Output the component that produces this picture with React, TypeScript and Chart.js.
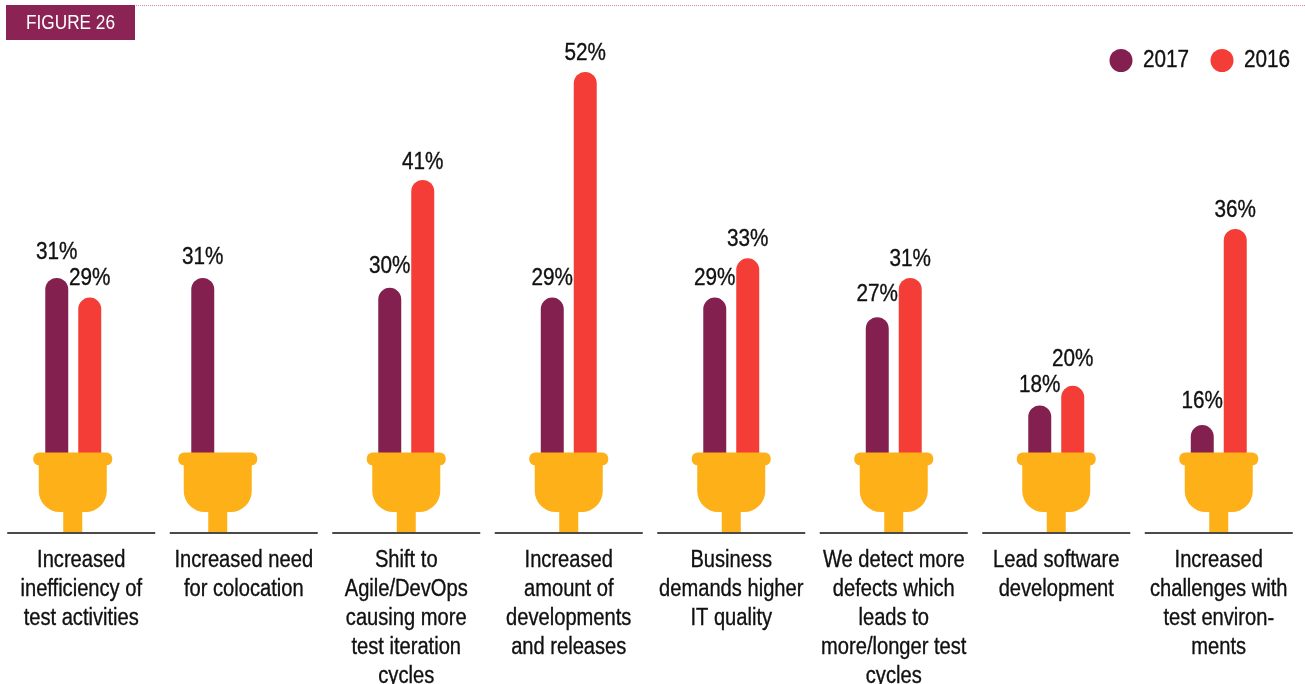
import React, { useEffect, useRef } from "react";
import { Chart, registerables } from "chart.js";

Chart.register(...registerables);

const categories = [
  ["Increased", "inefficiency of", "test activities"],
  ["Increased need", "for colocation"],
  ["Shift to", "Agile/DevOps", "causing more", "test iteration", "cycles"],
  ["Increased", "amount of", "developments", "and releases"],
  ["Business", "demands higher", "IT quality"],
  ["We detect more", "defects which", "leads to", "more/longer test", "cycles"],
  ["Lead software", "development"],
  ["Increased", "challenges with", "test environ-", "ments"],
];
const values2017 = [31, 31, 30, 29, 29, 27, 18, 16];
const values2016 = [29, null, 41, 52, 33, 31, 20, 36];
const seriesNames = ["2017", "2016"];
const figureLabel = "FIGURE 26";

const FONT = '"Liberation Sans", Arimo, sans-serif';
const COLORS = ["#84204F", "#F33D36"];
const PLUG = "#FDB018";
const barShift = [-8, -24.5, 0, 0, 0, 0, 0, 0];
const plugShift = [-8.5, -26, 0, 0, 0, 0, 0, 0];
const labelLift = [
  [25, 20, 21, 19, 19, 23, 20, 23],
  [19, 0, 17, 18, 19, 18, 26, 18],
];

function narrowText(
  c: CanvasRenderingContext2D,
  text: string,
  x: number,
  y: number,
  size: number,
  squeeze: number,
  align: CanvasTextAlign = "center",
  weight = 0.35,
) {
  c.save();
  c.translate(x, y);
  c.scale(squeeze, 1);
  c.font = `${size}px ${FONT}`;
  c.textAlign = align;
  c.textBaseline = "middle";
  c.fillText(text, 0, 0);
  if (weight > 0) {
    c.strokeStyle = c.fillStyle as string;
    c.lineWidth = weight;
    c.strokeText(text, 0, 0);
  }
  c.restore();
}

const decor = {
  id: "decor",
  afterDatasetsUpdate(chart: any) {
    chart.data.datasets.forEach((_: any, d: number) => {
      chart.getDatasetMeta(d).data.forEach((el: any, i: number) => {
        el.x += barShift[i];
      });
    });
  },
  beforeDraw(chart: any) {
    const c: CanvasRenderingContext2D = chart.ctx;
    c.save();
    c.strokeStyle = "#C98BA6";
    c.lineWidth = 1;
    c.setLineDash([1, 1]);
    c.beginPath();
    c.moveTo(6, 5.5);
    c.lineTo(1305, 5.5);
    c.stroke();
    c.setLineDash([]);
    c.fillStyle = "#8B2454";
    c.fillRect(6, 5, 129, 35);
    c.fillStyle = "#FFFFFF";
    narrowText(c, figureLabel, 70.5, 23, 21, 0.82, "center", 0);
    c.restore();
  },
  afterDatasetsDraw(chart: any) {
    const c: CanvasRenderingContext2D = chart.ctx;
    const xs = chart.scales.x;
    const bottom = chart.chartArea.bottom;
    c.save();
    categories.forEach((lines, i) => {
      const tick = xs.getPixelForValue(i);
      const cx = tick + plugShift[i];
      c.fillStyle = PLUG;
      c.fillRect(cx - 9.5, bottom - 30, 19, 30);
      c.beginPath();
      c.roundRect(cx - 34, bottom - 75, 68, 54, [0, 0, 21, 21]);
      c.fill();
      c.beginPath();
      c.roundRect(cx - 39.5, bottom - 80.5, 79, 13, [6, 6, 6, 6]);
      c.fill();
      c.strokeStyle = "#4A4A4A";
      c.lineWidth = 2;
      c.beginPath();
      c.moveTo(tick - 74, bottom);
      c.lineTo(tick + 74, bottom);
      c.stroke();
      c.fillStyle = "#111111";
      lines.forEach((line, k) => {
        narrowText(c, line, tick, bottom + 28 + k * 29, 23, 0.875);
      });
    });

    c.fillStyle = "#111111";
    chart.data.datasets.forEach((ds: any, d: number) => {
      chart.getDatasetMeta(d).data.forEach((el: any, i: number) => {
        const v = ds.data[i];
        if (v == null) return;
        narrowText(c, `${v}%`, el.x, el.y - labelLift[d][i], 23, 0.9);
      });
    });

    const legendX = [1121, 1222];
    seriesNames.forEach((name, k) => {
      c.fillStyle = COLORS[k];
      c.beginPath();
      c.arc(legendX[k], 60.5, 11.5, 0, Math.PI * 2);
      c.fill();
      c.fillStyle = "#111111";
      narrowText(c, name, legendX[k] + 22, 60.5, 23, 0.9, "left");
    });
    c.restore();
  },
};

export default function App() {
  const ref = useRef<HTMLCanvasElement>(null);
  useEffect(() => {
    const makeSet = (label: string, data: (number | null)[], color: string) => ({
      label,
      data,
      backgroundColor: color,
      base: 13,
      categoryPercentage: 66 / 162.6,
      barPercentage: 23 / 33,
      borderRadius: { topLeft: 12, topRight: 12, bottomLeft: 0, bottomRight: 0 },
      borderSkipped: false,
    });
    const chart = new Chart(ref.current!, {
      type: "bar",
      data: {
        labels: categories as any,
        datasets: [
          makeSet(seriesNames[0], values2017, COLORS[0]),
          makeSet(seriesNames[1], values2016, COLORS[1]),
        ] as any,
      },
      options: {
        animation: false,
        responsive: false,
        layout: { padding: { left: 0, right: 5, top: 72, bottom: 151 } },
        plugins: { legend: { display: false }, tooltip: { enabled: false } },
        scales: {
          x: { display: false },
          y: { display: false, min: 5, max: 52 },
        },
      },
      plugins: [decor],
    } as any);
    return () => chart.destroy();
  }, []);
  return (
    <div style={{ position: "fixed", left: 0, top: 0, width: 1305, height: 684, background: "#fff" }}>
      <canvas ref={ref} width={1305} height={684} style={{ display: "block" }} />
    </div>
  );
}
